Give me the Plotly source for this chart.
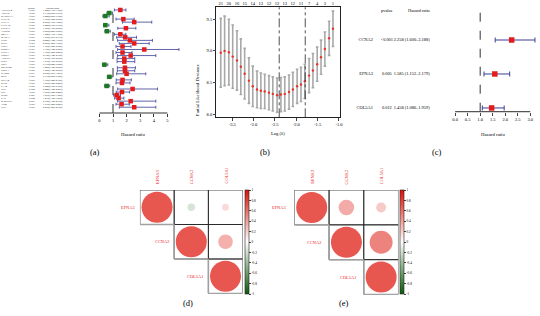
import plotly.graph_objects as go

W, H = 540, 316
SERIF = "Liberation Serif"
RED = "#E41A1C"
GREEN = "#1B7A1B"
NAVY = "#3A3F94"
LABRED = "#E8201A"


def dom_x(a, b):
    return [a / W, b / W]


def dom_y(top, bot):
    return [1 - bot / H, 1 - top / H]


def py(y):
    return 1 - y / H


# ---------------- Panel (a): univariate Cox forest plot ----------------
genes_a = ["ANGPTL4", "ADH1B", "PPARGC1A", "CCNA2", "EFNA3", "CXCL12", "COL5A1",
           "ALDOB", "P4HA1", "SLC2A1", "ENO1", "PGK1", "LDHA", "KDM3A", "VEGFA",
           "NDRG1", "ANKZF1", "PFKP", "FBP1", "BHLHE40", "ERO1A", "PLOD2", "MXI1",
           "PPFIA4", "STC2", "CA12", "TPI1", "GPI", "PGM1", "CA9", "SERPINE1",
           "ADM", "LOX"]
pval_a = ["<0.001", "<0.001", "<0.001", "<0.001", "<0.001", "<0.001", "<0.001",
          "<0.001", "<0.001", "<0.001", "0.002", "<0.001", "<0.001", "0.003",
          "<0.001", "<0.001", "<0.001", "<0.001", "<0.001", "<0.001", "<0.001",
          "0.001", "<0.001", "<0.001", "<0.001", "<0.001", "0.002", "<0.001",
          "0.021", "0.004", "0.001", "<0.001", "<0.001"]
hr_a = [1.54, 0.73, 0.44, 1.76, 2.56, 0.44, 1.95, 0.56, 1.54, 1.90, 2.24, 2.56,
        1.70, 3.30, 1.70, 2.30, 1.83, 1.83, 0.37, 1.88, 1.88, 2.00, 0.73, 1.70,
        1.66, 0.54, 2.44, 1.66, 1.27, 1.41, 2.30, 1.63, 2.56]
lo_a = [1.10, 0.55, 0.25, 1.22, 1.70, 0.30, 1.35, 0.40, 1.10, 1.27, 1.34, 1.46,
        1.22, 1.34, 1.22, 1.34, 1.30, 1.30, 0.22, 1.32, 1.32, 1.27, 0.58, 1.24,
        1.22, 0.38, 1.34, 1.24, 1.05, 1.12, 1.34, 1.22, 1.46]
hi_a = [1.95, 0.97, 0.72, 2.56, 3.85, 0.70, 2.68, 0.80, 1.95, 2.73, 3.90, 3.66,
        2.32, 5.85, 2.40, 4.15, 2.60, 2.60, 0.62, 2.65, 2.60, 3.41, 0.92, 2.35,
        2.25, 0.76, 4.27, 2.22, 1.55, 1.80, 4.15, 2.20, 4.15]
ticks_a = [0, 1, 2, 3, 4, 5]

# ---------------- Panel (b): LASSO cross-validation ----------------
loglam_b = [-3.77, -3.68, -3.58, -3.49, -3.39, -3.30, -3.21, -3.11, -3.02, -2.92,
            -2.83, -2.74, -2.64, -2.55, -2.45, -2.36, -2.27, -2.17, -2.08, -1.98,
            -1.89, -1.80, -1.70, -1.61, -1.51, -1.42, -1.33, -1.23, -1.14]
dev_b = [8.97, 9.00, 8.98, 8.91, 8.85, 8.75, 8.64, 8.53, 8.44, 8.39, 8.37, 8.36,
         8.34, 8.32, 8.30, 8.31, 8.32, 8.35, 8.39, 8.44, 8.47, 8.52, 8.61, 8.69,
         8.79, 8.90, 9.03, 9.20, 9.35]
se_b = [0.545, 0.55, 0.52, 0.50, 0.47, 0.44, 0.40, 0.36, 0.32, 0.29, 0.28, 0.27,
        0.27, 0.27, 0.27, 0.27, 0.27, 0.27, 0.27, 0.27, 0.27, 0.27, 0.27, 0.27,
        0.27, 0.27, 0.27, 0.27, 0.28]
nzero_pos_b = [-3.77, -3.58, -3.39, -3.21, -3.02, -2.83, -2.64, -2.45, -2.27,
               -2.08, -1.89, -1.70, -1.51, -1.33, -1.14]
nzero_b = ["21", "20", "16", "15", "14", "13", "12", "12", "13", "12", "11", "7",
           "4", "3", "1"]
lambda_lines_b = [-2.40, -1.79]
xticks_b = [-3.5, -3.0, -2.5, -2.0, -1.5, -1.0]
yticks_b = [8.0, 8.5, 9.0, 9.5]

# ---------------- Panel (c): multivariate Cox forest plot ----------------
genes_c = ["CCNA2", "EFNA3", "COL5A1"]
pval_c = ["<0.001", "0.005", "0.012"]
hr_c = [2.258, 1.585, 1.458]
lo_c = [1.600, 1.152, 1.086]
hi_c = [3.188, 2.179, 1.959]
ticks_c = [0.0, 0.5, 1.0, 1.5, 2.0, 2.5, 3.0]

# ---------------- Panels (d), (e): correlation plots ----------------
corr_genes = ["EFNA3", "CCNA2", "COL5A1"]
corr_d = [[1.00, -0.24, 0.22],
          [None, 1.00, 0.47],
          [None, None, 1.00]]
corr_e = [[1.00, 0.50, 0.32],
          [None, 1.00, 0.74],
          [None, None, 1.00]]
cbar_ticks = [1, 0.8, 0.6, 0.4, 0.2, 0, -0.2, -0.4, -0.6, -0.8, -1]

fig = go.Figure()
shapes = []
annotations = []

# ---- (a) forest
rows_a = list(range(len(genes_a)))
fig.add_trace(go.Scatter(
    x=hr_a, y=rows_a, mode="markers", xaxis="x", yaxis="y",
    marker=dict(symbol="square", size=4.5,
                color=[RED if h > 1 else GREEN for h in hr_a]),
    error_x=dict(type="data", symmetric=False,
                 array=[h2 - h for h, h2 in zip(hr_a, hi_a)],
                 arrayminus=[h - l for h, l in zip(hr_a, lo_a)],
                 color=NAVY, thickness=0.8, width=1.5),
    cliponaxis=False))
TF_A = dict(size=2.5, family=SERIF)
fig.add_trace(go.Scatter(x=[1] * len(genes_a), y=rows_a, text=genes_a, mode="text",
                         textposition="middle right", xaxis="x2", yaxis="y",
                         textfont=TF_A, cliponaxis=False))
fig.add_trace(go.Scatter(x=[32] * len(genes_a), y=rows_a, text=pval_a, mode="text",
                         textposition="middle center", xaxis="x2", yaxis="y",
                         textfont=TF_A, cliponaxis=False))
fig.add_trace(go.Scatter(
    x=[53] * len(genes_a), y=rows_a,
    text=[f"{h:.3f}({l:.3f}-{u:.3f})" for h, l, u in zip(hr_a, lo_a, hi_a)],
    mode="text", textposition="middle center", xaxis="x2", yaxis="y",
    textfont=TF_A, cliponaxis=False))
annotations += [
    dict(x=32, y=py(5.2), xref="x2", yref="paper", text="pvalue", showarrow=False,
         font=dict(size=2.6, family=SERIF)),
    dict(x=53, y=py(5.2), xref="x2", yref="paper", text="Hazard ratio", showarrow=False,
         font=dict(size=2.6, family=SERIF)),
    dict(x=2.5, y=py(134), xref="x", yref="paper", text="Hazard ratio", showarrow=False,
         font=dict(size=4.8, family=SERIF)),
]
shapes += [
    dict(type="line", xref="x", yref="y domain", x0=1, x1=1, y0=0, y1=0.97,
         line=dict(color="#333333", width=1, dash="dash")),
    dict(type="line", xref="x", yref="y domain", x0=ticks_a[0], x1=ticks_a[-1], y0=0, y1=0,
         line=dict(color="#333333", width=1.2)),
]

# ---- (b) LASSO CV
fig.add_trace(go.Scatter(
    x=loglam_b, y=dev_b, mode="markers", xaxis="x3", yaxis="y3",
    marker=dict(size=2.4, color="#E8322B"),
    error_y=dict(type="data", array=se_b, color="#A8A8A8", thickness=1.6, width=1.3)))
# invisible trace so the top (number of genes) axis is drawn
fig.add_trace(go.Scatter(x=nzero_pos_b, y=dev_b[:len(nzero_pos_b)], mode="markers",
                         xaxis="x4", yaxis="y3", marker=dict(size=1, opacity=0)))
for v in lambda_lines_b:
    shapes.append(dict(type="line", xref="x3", yref="y3 domain", x0=v, x1=v, y0=0, y1=1,
                       line=dict(color="#222222", width=0.8, dash="dashdot")))
annotations += [
    dict(x=(-3.87 + -0.98) / 2, y=py(133), xref="x3", yref="paper", text="Log (λ)",
         showarrow=False, font=dict(size=4.6, family=SERIF)),
    dict(x=199 / W, y=py(62), xref="paper", yref="paper", text="Partial Likelihood Deviance",
         textangle=-90, showarrow=False, font=dict(size=4.6, family=SERIF)),
]

# ---- (c) forest
rows_c = list(range(len(genes_c)))
fig.add_trace(go.Scatter(
    x=hr_c, y=rows_c, mode="markers", xaxis="x5", yaxis="y5",
    marker=dict(symbol="square", size=5.5, color=RED),
    error_x=dict(type="data", symmetric=False,
                 array=[u - h for h, u in zip(hr_c, hi_c)],
                 arrayminus=[h - l for h, l in zip(hr_c, lo_c)],
                 color=NAVY, thickness=1, width=2.5),
    cliponaxis=False))
TF_C = dict(size=4.4, family=SERIF)
fig.add_trace(go.Scatter(x=[375] * 3, y=rows_c, text=genes_c, mode="text",
                         textposition="middle left", xaxis="x6", yaxis="y5",
                         textfont=TF_C, cliponaxis=False))
fig.add_trace(go.Scatter(x=[389] * 3, y=rows_c, text=pval_c, mode="text",
                         textposition="middle center", xaxis="x6", yaxis="y5",
                         textfont=TF_C, cliponaxis=False))
fig.add_trace(go.Scatter(
    x=[396] * 3, y=rows_c,
    text=[f"{h:.3f} ({l:.3f}–{u:.3f})" for h, l, u in zip(hr_c, lo_c, hi_c)],
    mode="text", textposition="middle right", xaxis="x6", yaxis="y5",
    textfont=TF_C, cliponaxis=False))
annotations += [
    dict(x=389, y=py(6), xref="x6", yref="paper", text="pvalue", showarrow=False,
         font=TF_C),
    dict(x=422, y=py(6), xref="x6", yref="paper", text="Hazard ratio", showarrow=False,
         font=TF_C),
    dict(x=1.5, y=py(134), xref="x5", yref="paper", text="Hazard ratio", showarrow=False,
         font=dict(size=4.8, family=SERIF)),
]
shapes += [
    dict(type="line", xref="x5", yref="y5 domain", x0=1, x1=1, y0=0, y1=0.97,
         line=dict(color="#333333", width=1, dash="dash")),
    dict(type="line", xref="x5", yref="y5 domain", x0=ticks_c[0], x1=ticks_c[-1], y0=0, y1=0,
         line=dict(color="#555555", width=1.3)),
]


# ---- (d), (e) correlation
def corr_panel(corr, xa, ya, cbar_x, label_shift):
    xs, ys, vals = [], [], []
    for i in range(3):
        for j in range(3):
            if j >= i and corr[i][j] is not None:
                xs.append(j + 1)
                ys.append(i + 1)
                vals.append(corr[i][j])
    fig.add_trace(go.Scatter(
        x=xs, y=ys, mode="markers", xaxis=xa, yaxis=ya,
        marker=dict(size=[abs(v) * 31 for v in vals], color=vals, cmin=-1, cmax=1,
                    colorscale=[[0, "#0A5A0A"], [0.5, "#FFFFFF"], [1, "#DD1005"]],
                    line=dict(width=0),
                    showscale=True,
                    colorbar=dict(x=cbar_x / W, xanchor="left", xpad=0,
                                  y=py(242), yanchor="middle", ypad=0,
                                  len=104, lenmode="pixels", thickness=3.5,
                                  outlinewidth=0.6, outlinecolor="#222222",
                                  tickvals=cbar_ticks,
                                  ticktext=[str(t) for t in cbar_ticks],
                                  ticks="outside", ticklen=2, tickwidth=0.5,
                                  tickfont=dict(size=3.4, family=SERIF)))))
    for i in range(3):
        for j in range(i, 3):
            shapes.append(dict(type="rect", xref=xa, yref=ya, x0=j + 0.5, x1=j + 1.5,
                               y0=i + 0.5, y1=i + 1.5,
                               line=dict(color="#222222", width=0.8)))
    for i in range(3):
        shapes.append(dict(type="line", xref=xa, yref=ya, x0=i + 0.5, x1=i + 1.5,
                           y0=i + 1.5, y1=i + 1.5, line=dict(color="#A0A0A0", width=1.5)))
        if i > 0:
            shapes.append(dict(type="line", xref=xa, yref=ya, x0=i + 0.5, x1=i + 0.5,
                               y0=i + 0.5, y1=i + 1.5, line=dict(color="#A0A0A0", width=1.5)))
    for k, g in enumerate(corr_genes):
        annotations.append(dict(x=k + 1, y=py(186), xref=xa, yref="paper", text=g,
                                textangle=-90, yanchor="bottom", showarrow=False,
                                font=dict(size=4.4, family=SERIF, color=LABRED)))
        annotations.append(dict(x=k + 0.5, y=k + 1, xref=xa, yref=ya, text=g,
                                xanchor="right", xshift=label_shift, showarrow=False,
                                font=dict(size=4.4, family=SERIF, color=LABRED)))


corr_panel(corr_d, "x7", "y7", 246, -3)
corr_panel(corr_e, "x8", "y8", 402, -6)

# panel labels
for lab, xx, yy in [("(a)", 88, 152), ("(b)", 266, 152), ("(c)", 446, 152),
                    ("(d)", 189, 310), ("(e)", 346, 310)]:
    annotations.append(dict(x=xx / W, y=py(yy), xref="paper", yref="paper", text=lab,
                            showarrow=False, font=dict(size=8.5, family=SERIF)))

hidden = dict(visible=False)
tickfont = dict(size=4.5, family=SERIF, color="black")

fig.update_layout(
    width=W, height=H, margin=dict(l=0, r=0, t=0, b=0),
    paper_bgcolor="white", plot_bgcolor="rgba(0,0,0,0)", showlegend=False,
    hovermode=False,
    font=dict(family=SERIF, color="black"),
    # (a)
    xaxis=dict(domain=dom_x(96, 182), range=[-0.29, 6.0], anchor="y",
               showline=False, showgrid=False, zeroline=False,
               tickvals=ticks_a, ticks="outside", ticklen=3, tickcolor="#333333",
               tickfont=tickfont),
    yaxis=dict(domain=dom_y(5, 113), range=[33.9, -1.64], anchor="x", visible=False),
    xaxis2=dict(domain=dom_x(0, 95), range=[0, 95], anchor="y", visible=False),
    # (b)
    xaxis3=dict(domain=dom_x(217.7, 341.7), range=[-3.87, -0.98], anchor="y3",
                showline=True, linecolor="#222222", linewidth=0.8, mirror=True,
                showgrid=False, zeroline=False, tickvals=xticks_b,
                ticktext=[f"{v:.1f}" for v in xticks_b],
                ticks="outside", ticklen=2.5, tickwidth=0.6, tickfont=tickfont),
    xaxis4=dict(overlaying="x3", side="top", range=[-3.87, -0.98], anchor="y3",
                showline=False, showgrid=False, zeroline=False,
                tickvals=nzero_pos_b, ticktext=nzero_b, ticks="", tickfont=tickfont),
    yaxis3=dict(domain=dom_y(7.3, 117.3), range=[7.95, 9.69], anchor="x3",
                showline=True, linecolor="#222222", linewidth=0.8, mirror=True,
                showgrid=False, zeroline=False, tickvals=yticks_b,
                ticktext=[f"{v:.1f}" for v in yticks_b],
                ticks="outside", ticklen=2.5, tickwidth=0.6, tickfont=tickfont),
    # (c)
    xaxis5=dict(domain=dom_x(455, 540), range=[-0.107, 3.27], anchor="y5",
                showline=False, showgrid=False, zeroline=False,
                tickvals=ticks_c, ticktext=[f"{v:.1f}" for v in ticks_c],
                ticks="outside", ticklen=3, tickcolor="#444444", tickfont=tickfont),
    yaxis5=dict(domain=dom_y(5, 111.7), range=[2.11, -1.03], anchor="x5", visible=False),
    xaxis6=dict(domain=dom_x(355, 455), range=[355, 455], anchor="y5", visible=False),
    # (d)
    xaxis7=dict(domain=dom_x(140.7, 244), range=[0.5, 3.5], anchor="y7", **hidden),
    yaxis7=dict(domain=dom_y(190, 293.5), range=[3.5, 0.5], anchor="x7", **hidden),
    # (e)
    xaxis8=dict(domain=dom_x(296, 400.7), range=[0.5, 3.5], anchor="y8", **hidden),
    yaxis8=dict(domain=dom_y(190, 294.5), range=[3.5, 0.5], anchor="x8", **hidden),
    shapes=shapes, annotations=annotations,
)

fig.write_html("out.html", config={"displayModeBar": False},
               post_script="document.body.style.margin='0px';")
